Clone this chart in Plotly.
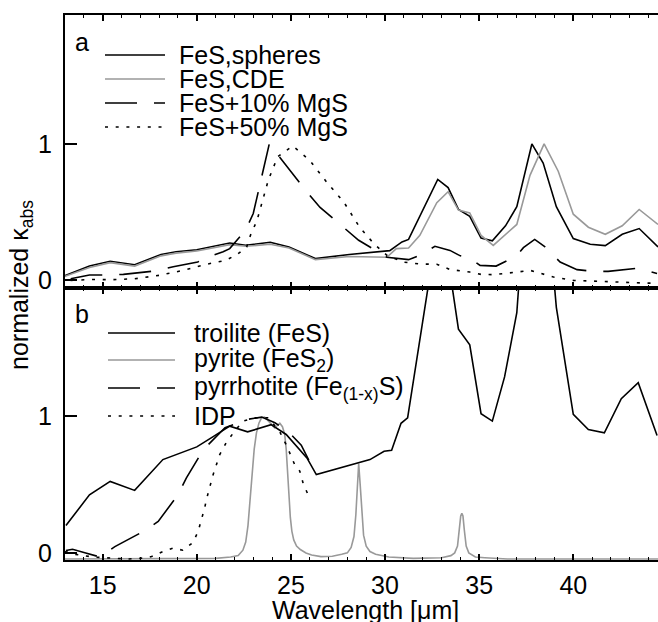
import plotly.graph_objects as go
from plotly.subplots import make_subplots

# ---------------- data: panel a ----------------
spheres_x = [13.0, 14.3, 15.4, 16.7, 18.1, 18.9, 20.0, 20.9, 21.75, 22.6, 23.9, 24.9, 26.3, 28.1, 30.25, 30.9, 31.25,
             32.8, 33.35, 33.9, 34.5, 35.1, 35.7, 36.4, 37.0, 37.8, 38.4, 39.1, 40.0, 40.9, 41.7, 42.6, 43.5, 44.5]
spheres_y = [0.035, 0.105, 0.14, 0.115, 0.19, 0.21, 0.225, 0.25, 0.274, 0.258, 0.279, 0.245, 0.16, 0.19, 0.218, 0.282, 0.30,
             0.74, 0.68, 0.52, 0.47, 0.31, 0.29, 0.40, 0.54, 1.0, 0.86, 0.54, 0.307, 0.265, 0.255, 0.338, 0.38, 0.245]

cde_x = [13.0, 14.3, 15.4, 16.7, 18.1, 18.9, 20.0, 20.9, 21.75, 22.6, 23.9, 24.9, 26.3, 28.1, 30.1, 30.6, 31.25, 31.85,
         32.75, 33.35, 33.9, 34.5, 35.1, 35.75, 37.0, 37.7, 38.45, 39.2, 40.0, 40.8, 41.7, 42.6, 43.5, 44.5]
cde_y = [0.03, 0.095, 0.13, 0.105, 0.18, 0.2, 0.215, 0.24, 0.262, 0.25, 0.265, 0.238, 0.152, 0.175, 0.17, 0.233, 0.238, 0.33,
         0.57, 0.65, 0.515, 0.495, 0.33, 0.257, 0.41, 0.77, 1.0, 0.80, 0.485, 0.39, 0.338, 0.40, 0.52, 0.41]

mgs10_x = [13.3, 14.3, 15.1, 16.1, 17.85, 18.75, 20.05, 20.5, 21.4, 21.75, 22.6, 23.0, 23.85, 24.25, 24.85, 25.9, 26.55,
           27.9, 28.6, 30.1, 31.25, 31.85, 32.65, 33.45, 34.0, 34.5, 35.05, 35.9, 37.0, 37.35, 37.95, 38.5, 39.3, 40.2,
           41.05, 41.85, 42.85, 43.45, 44.45]
mgs10_y = [0.012, 0.04, 0.04, 0.044, 0.07, 0.10, 0.135, 0.167, 0.21, 0.233, 0.37, 0.49, 1.0, 0.93, 0.82, 0.64, 0.535,
           0.38, 0.294, 0.17, 0.152, 0.184, 0.25, 0.22, 0.18, 0.164, 0.11, 0.105, 0.18, 0.24, 0.30, 0.245, 0.135, 0.079,
           0.066, 0.066, 0.083, 0.09, 0.05]

mgs50_x = [13.3, 14.5, 15.4, 16.7, 18.0, 19.3, 20.5, 21.55, 22.2, 22.65, 22.85, 23.2, 23.8, 24.3, 25.1, 26.0, 26.9, 27.8,
           28.65, 29.4, 30.1, 30.95, 31.85, 32.75, 33.45, 34.5, 35.1, 35.75, 37.0, 37.7, 38.95, 40.0, 41.05, 42.1,
           43.9, 44.5]
mgs50_y = [0.0, 0.007, 0.005, 0.012, 0.037, 0.074, 0.118, 0.147, 0.196, 0.245, 0.33, 0.44, 0.735, 0.907, 0.985, 0.88,
           0.72, 0.576, 0.39, 0.27, 0.184, 0.135, 0.12, 0.118, 0.08, 0.061, 0.044, 0.042, 0.061, 0.074, 0.025, 0.0,
           -0.005, -0.012, -0.02, -0.02]

# ---------------- data: panel b ----------------
troilite_x = [13.05, 14.3, 15.4, 16.7, 18.2, 20.0, 20.85, 21.75, 22.7, 23.95, 24.75, 25.85, 26.35, 27.95, 29.2, 29.95,
              30.35, 30.85, 31.2, 32.8, 33.35, 33.9, 34.5, 35.1, 35.7, 36.35, 37.0, 37.8, 38.4, 39.1, 40.0, 40.8, 41.65,
              42.55, 43.45, 44.45]
troilite_y = [0.2, 0.426, 0.524, 0.458, 0.684, 0.777, 0.85, 0.929, 0.887, 0.94, 0.868, 0.696, 0.574, 0.635, 0.684, 0.745,
              0.752, 0.95, 0.99, 2.4, 2.15, 1.64, 1.525, 1.02, 0.966, 1.29, 1.76, 3.3, 2.9, 1.8, 1.015, 0.904, 0.88,
              1.13, 1.248, 0.86]

pyrite_x = [13.0, 20.0, 21.0, 21.8, 22.2, 22.45, 22.6, 22.72, 22.8, 22.87, 22.95, 23.05, 23.17, 23.3, 23.44, 23.6, 23.75,
            23.9, 24.05, 24.14, 24.25, 24.41, 24.55, 24.67, 24.75, 24.82, 24.9, 24.97, 25.05, 25.15, 25.3, 25.5, 25.8,
            26.1, 26.6, 27.2, 27.7, 28.0, 28.2, 28.35, 28.45, 28.52, 28.6, 28.68, 28.76, 28.86, 29.0, 29.2, 29.5,
            30.2, 31.5, 33.0, 33.5, 33.7, 33.85, 33.95, 34.02, 34.08, 34.14, 34.21, 34.31, 34.45, 34.8, 35.3, 36.5,
            44.5]
pyrite_y = [-0.045, -0.045, -0.04, -0.03, -0.02, 0.02, 0.08, 0.2, 0.33, 0.475, 0.62, 0.76, 0.88, 0.95, 0.99, 0.995,
            0.975, 0.95, 0.925, 0.917, 0.93, 0.95, 0.925, 0.87, 0.76, 0.6, 0.4, 0.26, 0.16, 0.095, 0.05, 0.025, 0.0,
            -0.015, -0.027, -0.025, -0.01, 0.0, 0.04, 0.12, 0.28, 0.48, 0.655, 0.5, 0.3, 0.13, 0.05, 0.01, -0.01,
            -0.03, -0.04, -0.035, -0.02, 0.0, 0.05, 0.17, 0.27, 0.29, 0.27, 0.17, 0.05, 0.0, -0.03, -0.035, -0.045,
            -0.045]

pyrr_x = [13.05, 13.4, 14.1, 14.85, 15.65, 17.15, 17.95, 19.0, 19.45, 20.35, 21.5, 21.95, 22.3, 22.45, 23.45, 24.15,
          24.85, 25.55, 25.95]
pyrr_y = [0.017, 0.027, 0.0, -0.03, 0.046, 0.157, 0.23, 0.426, 0.55, 0.757, 0.917, 0.94, 0.966, 0.973, 0.995, 0.954,
          0.89, 0.79, 0.68]

idp_x = [13.0, 13.5, 14.5, 15.5, 16.3, 17.0, 17.6, 18.2, 18.75, 19.25, 19.8, 20.07, 20.25, 20.42, 20.51, 20.86, 21.22,
         21.57, 22.0, 22.46, 23.08, 23.8, 24.4, 24.76, 25.2, 25.47, 25.65, 25.9]
idp_y = [0.01, -0.01, -0.03, -0.04, -0.045, -0.04, -0.027, 0.01, 0.035, 0.02, 0.076, 0.157, 0.243, 0.33, 0.39, 0.57,
         0.72, 0.81, 0.89, 0.966, 0.99, 0.99, 0.89, 0.79, 0.647, 0.6, 0.51, 0.43]

legend_a = ["FeS,spheres", "FeS,CDE", "FeS+10% MgS", "FeS+50% MgS"]
legend_b = ["troilite (FeS)", "pyrite (FeS<sub>2</sub>)", "pyrrhotite (Fe<sub>(1-x)</sub>S)", "IDP"]

x_ticks = [15, 20, 25, 30, 35, 40]
y_ticks = [0, 1]

# ---------------- styling ----------------
FONT = "Liberation Sans, Arial, Helvetica, sans-serif"
FS = 25
BLACK = "#000000"
GRAY = "#999999"
LW = 1.6
DASH_LONG = "32px,17px"
DASH_DOT = "3px,7.7px"

W, H = 658, 622
ML, MR, MT, MB = 65, 0, 15, 62

def px_x(p):
    return (p - ML) / (W - ML - MR)

def px_y(p):
    return (H - MB - p) / (H - MT - MB)

fig = make_subplots(rows=2, cols=1, shared_xaxes=True, vertical_spacing=0)

styles_a = [(BLACK, "solid"), (GRAY, "solid"), (BLACK, DASH_LONG), (BLACK, DASH_DOT)]
series_a = [(spheres_x, spheres_y), (cde_x, cde_y), (mgs10_x, mgs10_y), (mgs50_x, mgs50_y)]
for (xs, ys), (c, d), name in zip(series_a, styles_a, legend_a):
    fig.add_trace(go.Scatter(x=xs, y=ys, mode="lines", name=name, showlegend=False,
                             line=dict(color=c, width=LW, dash=d)), row=1, col=1)

styles_b = [(BLACK, "solid"), (GRAY, "solid"), (BLACK, DASH_LONG), (BLACK, DASH_DOT)]
series_b = [(troilite_x, troilite_y), (pyrite_x, pyrite_y), (pyrr_x, pyrr_y), (idp_x, idp_y)]
order_b = [1, 0, 2, 3]
for i in order_b:
    xs, ys = series_b[i]
    c, d = styles_b[i]
    fig.add_trace(go.Scatter(x=xs, y=ys, mode="lines", name=legend_b[i], showlegend=False,
                             line=dict(color=c, width=LW, dash=d)), row=2, col=1)

xcommon = dict(range=[13, 44.5], showline=True, linewidth=2, linecolor=BLACK, mirror="allticks",
               ticks="inside", ticklen=6, tickwidth=1.5, tickcolor=BLACK, tick0=0, dtick=5,
               minor=dict(ticks="inside", dtick=1, tick0=0, ticklen=3, tickwidth=1, tickcolor=BLACK),
               showgrid=False, zeroline=False, automargin=False)
fig.update_xaxes(**xcommon, showticklabels=False, row=1, col=1)
fig.update_xaxes(**xcommon, showticklabels=True, tickvals=x_ticks, ticklabelstandoff=2,
                 tickfont=dict(family=FONT, size=FS, color=BLACK), row=2, col=1)

ycommon = dict(range=[-0.052, 1.945], showline=True, linewidth=2, linecolor=BLACK, mirror=False,
               ticks="inside", ticklen=12, tickwidth=1.5, tickcolor=BLACK, tickvals=y_ticks,
               tickfont=dict(family=FONT, size=FS, color=BLACK), ticklabelstandoff=6,
               showgrid=False, zeroline=False, automargin=False)
fig.update_yaxes(**ycommon, row=1, col=1)
fig.update_yaxes(**ycommon, row=2, col=1)

shapes = []
annotations = []

def add_text(text, x, y, xanchor="left"):
    annotations.append(dict(text=text, x=px_x(x), y=px_y(y), xref="paper", yref="paper",
                            xanchor=xanchor, yanchor="middle", showarrow=False,
                            font=dict(family=FONT, size=FS, color=BLACK)))

ya = [55, 79, 103, 127]
for (c, d), name, yy in zip(styles_a, legend_a, ya):
    shapes.append(dict(type="line", xref="paper", yref="paper", x0=px_x(105), x1=px_x(165),
                       y0=px_y(yy), y1=px_y(yy), line=dict(color=c, width=LW, dash=d)))
    add_text(name, 177, yy)

yb = [333, 360, 388, 416]
for (c, d), name, yy in zip(styles_b, legend_b, yb):
    shapes.append(dict(type="line", xref="paper", yref="paper", x0=px_x(108), x1=px_x(175),
                       y0=px_y(yy), y1=px_y(yy), line=dict(color=c, width=LW, dash=d)))
    add_text(name, 192, yy)

add_text("a", 73, 42)
add_text("b", 73, 314)

annotations.append(dict(text="normalized κ<sub>abs</sub>", x=px_x(21), y=px_y(285), xref="paper", yref="paper",
                        xanchor="center", yanchor="middle", textangle=-90, showarrow=False,
                        font=dict(family=FONT, size=FS, color=BLACK)))
annotations.append(dict(text="Wavelength [μm]", x=px_x(365), y=px_y(610), xref="paper", yref="paper",
                        xanchor="center", yanchor="middle", showarrow=False,
                        font=dict(family=FONT, size=FS, color=BLACK)))

fig.update_layout(width=W, height=H, margin=dict(l=ML, r=MR, t=MT, b=MB, autoexpand=False),
                  plot_bgcolor="white", paper_bgcolor="white", showlegend=False,
                  shapes=shapes, annotations=annotations,
                  font=dict(family=FONT, size=FS, color=BLACK))

fig.write_html("out.html", config={"displayModeBar": False},
               post_script="document.body.style.margin='0';document.body.style.padding='0';")
